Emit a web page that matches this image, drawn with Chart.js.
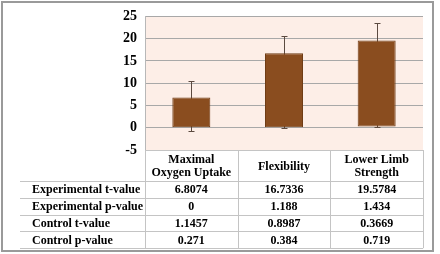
<!DOCTYPE html>
<html>
<head>
<meta charset="utf-8">
<script src="https://cdn.jsdelivr.net/npm/chart.js@4.4.0/dist/chart.umd.min.js"></script>
<style>
  html,body{margin:0;padding:0;background:#fff;}
  #wrap{position:relative;width:440px;height:254px;}
</style>
</head>
<body>
<div id="wrap"><canvas id="c" width="440" height="254"></canvas></div>
<script>
// categories (table header) and bar values
const categories = [["Maximal","Oxygen Uptake"], ["Flexibility"], ["Lower Limb","Strength"]];
const barBase = [0, 0, 0.3];
const barTop = [6.8074, 16.7336, 19.5784];
const errHigh = [10.5, 20.6, 23.5];
const errLow = [-0.7, 0, 0.1];

// data table rows
const rowLabels = ["Experimental t-value", "Experimental p-value", "Control t-value", "Control p-value"];
const expT = ["6.8074", "16.7336", "19.5784"];
const expP = ["0", "1.188", "1.434"];
const ctrlT = ["1.1457", "0.8987", "0.3669"];
const ctrlP = ["0.271", "0.384", "0.719"];
const rows = [expT, expP, ctrlT, ctrlP];

const FONT = "'Liberation Serif','Times New Roman',serif";

const plotBg = {
  id: "plotBg",
  beforeDraw(chart) {
    const {ctx, chartArea:a} = chart;
    ctx.save();
    ctx.fillStyle = "#fdeee7";
    ctx.fillRect(a.left, a.top, a.right-a.left, a.bottom-a.top);
    ctx.restore();
  }
};

// whiskers go behind the bars, like in the original
const errorBars = {
  id: "errorBars",
  beforeDatasetsDraw(chart) {
    const {ctx, scales:{x,y}} = chart;
    ctx.save();
    ctx.strokeStyle = "#5b4a40";
    ctx.lineWidth = 1;
    barTop.forEach((v,i) => {
      const cx = Math.round(x.getPixelForValue(i)) + 0.5;
      const yh = Math.round(y.getPixelForValue(errHigh[i])) + 0.5;
      const yl = Math.round(y.getPixelForValue(errLow[i])) + 0.5;
      ctx.beginPath();
      ctx.moveTo(cx, yh); ctx.lineTo(cx, yl);
      ctx.moveTo(cx-3, yh); ctx.lineTo(cx+3, yh);
      ctx.moveTo(cx-3, yl); ctx.lineTo(cx+3, yl);
      ctx.stroke();
    });
    ctx.restore();
  }
};

const dataTable = {
  id: "dataTable",
  afterDraw(chart) {
    const {ctx, chartArea:a, scales:{x}} = chart;
    const half = (x.getPixelForValue(1) - x.getPixelForValue(0)) / 2;
    const top = a.bottom;
    const headH = 31;
    const rowH = 16.8;
    const bottom = top + headH + rowH*rows.length;
    const leftX = 20;
    ctx.save();
    ctx.strokeStyle = "#c4c4c4";
    ctx.lineWidth = 1;
    ctx.beginPath();
    ctx.moveTo(a.left, top+0.5); ctx.lineTo(a.right, top+0.5);
    for (let r=0; r<=rows.length; r++) {
      const yy = Math.round(top + headH + r*rowH) + 0.5;
      ctx.moveTo(leftX, yy); ctx.lineTo(a.right, yy);
    }
    for (let i=0; i<=categories.length; i++) {
      const xx = Math.round(x.getPixelForValue(i) - half) + 0.5;
      ctx.moveTo(xx, top); ctx.lineTo(xx, bottom);
    }
    ctx.stroke();
    ctx.fillStyle = "#000";
    ctx.font = "bold 12px " + FONT;
    ctx.textAlign = "center";
    ctx.textBaseline = "middle";
    categories.forEach((lines,i) => {
      const cx = x.getPixelForValue(i);
      const cy = top + headH/2 + 1;
      lines.forEach((t,k) => {
        ctx.fillText(t, cx, cy + (k - (lines.length-1)/2)*13);
      });
    });
    rows.forEach((vals,r) => {
      const cy = top + headH + r*rowH + rowH/2 + 1;
      ctx.textAlign = "left";
      ctx.fillText(rowLabels[r], 32, cy);
      ctx.textAlign = "center";
      vals.forEach((v,i) => ctx.fillText(v, x.getPixelForValue(i), cy));
    });
    ctx.strokeStyle = "#9a9a9a";
    ctx.lineWidth = 2;
    ctx.strokeRect(2, 2, 431, 249);
    ctx.restore();
  }
};

new Chart(document.getElementById("c"), {
  type: "bar",
  data: {
    labels: categories.map(c => c.join(" ")),
    datasets: [{
      data: barTop.map((v,i) => [barBase[i], v]),
      backgroundColor: "#8a4d1f",
      borderColor: "#6f3c15",
      borderWidth: 1,
      borderSkipped: false,
      barPercentage: 0.41,
      categoryPercentage: 1
    }]
  },
  options: {
    responsive: false,
    animation: false,
    devicePixelRatio: 1,
    layout: { padding: { top: 7, right: 17, bottom: 104, left: 0 } },
    plugins: { legend: { display: false }, tooltip: { enabled: false } },
    scales: {
      x: { display: false, offset: true, grid: { display: false } },
      y: {
        min: -5, max: 25,
        ticks: { stepSize: 5, color: "#000", padding: 8, font: { family: FONT, size: 14, weight: "bold" } },
        grid: { color: "#a8a8a8", drawTicks: false },
        border: { display: true, color: "#b8b8b8" },
        afterFit(s) { s.width = 145; }
      }
    }
  },
  plugins: [plotBg, errorBars, dataTable]
});
</script>
</body>
</html>
